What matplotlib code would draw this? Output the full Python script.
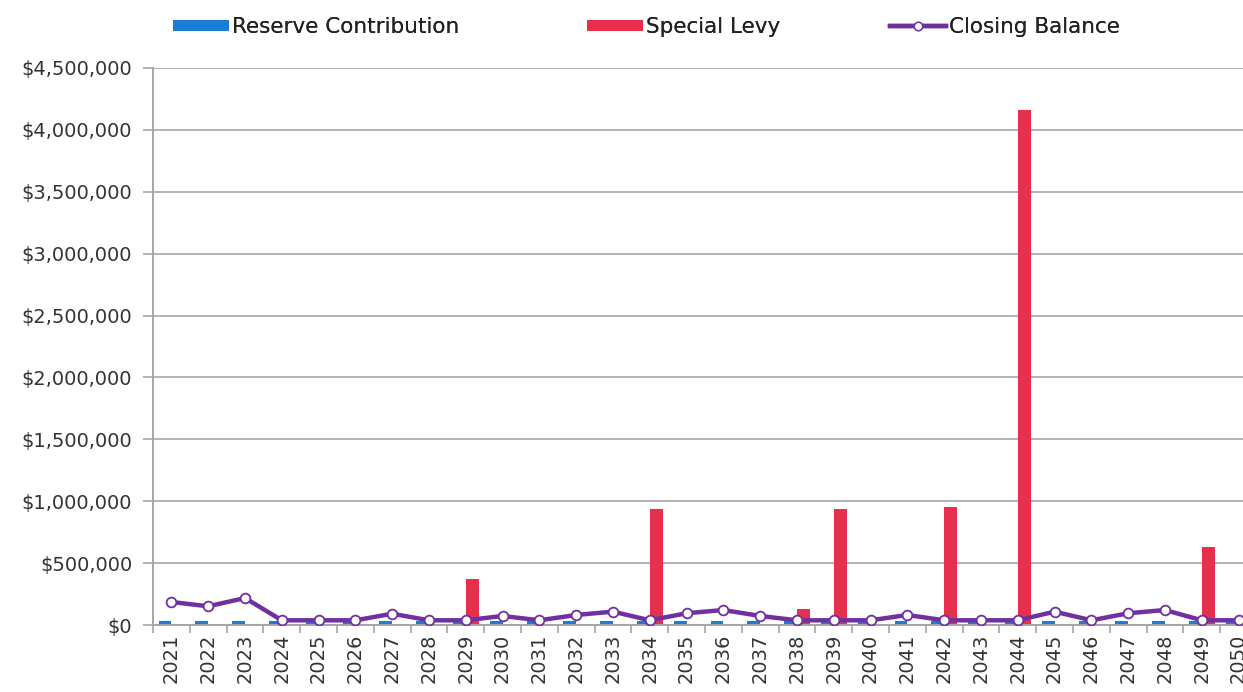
import matplotlib
matplotlib.use('Agg')
from matplotlib import pyplot as plt
from matplotlib.ticker import FuncFormatter, FixedLocator
from matplotlib.patches import Patch
from matplotlib.lines import Line2D
import numpy as np


years = [str(y) for y in range(2021, 2051)]

reserve_contribution = [30000] * 30

special_levy = [0, 0, 0, 0, 0, 0, 0, 0, 375000, 0,
                0, 0, 0, 935000, 0, 0, 0, 132000, 935000, 0,
                0, 955000, 0, 4160000, 0, 0, 0, 0, 632000, 0]

closing_balance = [186000, 151000, 218000, 38000, 38000, 38000, 91000, 38000, 38000, 73000,
                   38000, 81000, 108000, 38000, 95000, 121000, 73000, 38000, 38000, 38000,
                   81000, 38000, 38000, 38000, 108000, 38000, 95000, 121000, 38000, 38000]

blue = '#1a7fd4'
red = '#e8304c'
purple = '#7030a0'
grid_grey = '#a6a6a6'
text_grey = '#333333'


def plot_reserve_chart(plot_file):
    fig = plt.figure(figsize=(12.43, 6.92), dpi=100)
    ax = fig.add_axes([153 / 1243, 1 - 625 / 692, 1104 / 1243, 557 / 692])

    x = np.arange(len(years))
    bar_w = 0.35
    ax.bar(x - bar_w / 2, reserve_contribution, bar_w, color=blue, zorder=2)
    ax.bar(x + bar_w / 2, special_levy, bar_w, color=red, zorder=2)
    ax.plot(x, closing_balance, '-o', color=purple, linewidth=3.2,
            markersize=7, markerfacecolor='white', markeredgecolor=purple,
            markeredgewidth=1.3, zorder=3)

    ax.set_xlim(-0.5, len(years) - 0.5)
    ax.set_ylim(0, 4500000)
    ax.set_yticks(np.arange(0, 4500001, 500000))
    ax.yaxis.set_major_formatter(FuncFormatter(lambda v, _: f'${v:,.0f}'))
    ax.grid(axis='y', color=grid_grey, linewidth=1.2, zorder=0)

    # category labels centred, tick marks on the category boundaries
    ax.set_xticks(x)
    ax.set_xticklabels(years, rotation=90, fontsize=14, color=text_grey)
    ax.tick_params(axis='x', which='major', length=0, pad=6)
    ax.xaxis.set_minor_locator(FixedLocator(np.arange(-0.5, len(years), 1.0)))
    ax.tick_params(axis='x', which='minor', length=6, color=grid_grey, width=1.2)
    ax.tick_params(axis='y', length=7, color=grid_grey, width=1.2,
                   labelsize=14, labelcolor=text_grey, pad=8)

    for side in ['top', 'right']:
        ax.spines[side].set_visible(False)
    for side in ['left', 'bottom']:
        ax.spines[side].set_color(grid_grey)
        ax.spines[side].set_linewidth(1.4)

    # legend entries laid out across the top
    entries = [
        (Patch(facecolor=blue), 'Reserve Contribution', 173),
        (Patch(facecolor=red), 'Special Levy', 587),
        (Line2D([], [], color=purple, linewidth=3.2, marker='o', markersize=6,
                markerfacecolor='white', markeredgecolor=purple), 'Closing Balance', 890),
    ]
    for handle, label, xpos in entries:
        leg = fig.legend([handle], [label], loc='center left',
                         bbox_to_anchor=(xpos / 1243, 1 - 27 / 692),
                         frameon=False, fontsize=15.5, handlelength=2.6,
                         handleheight=0.45, handletextpad=0.15,
                         borderaxespad=0, borderpad=0, labelcolor='#222222')
        fig.add_artist(leg)

    plt.savefig(plot_file, dpi=100)
    plt.close()


def main():
    plot_reserve_chart('out.png')


if __name__ == '__main__':
    main()
